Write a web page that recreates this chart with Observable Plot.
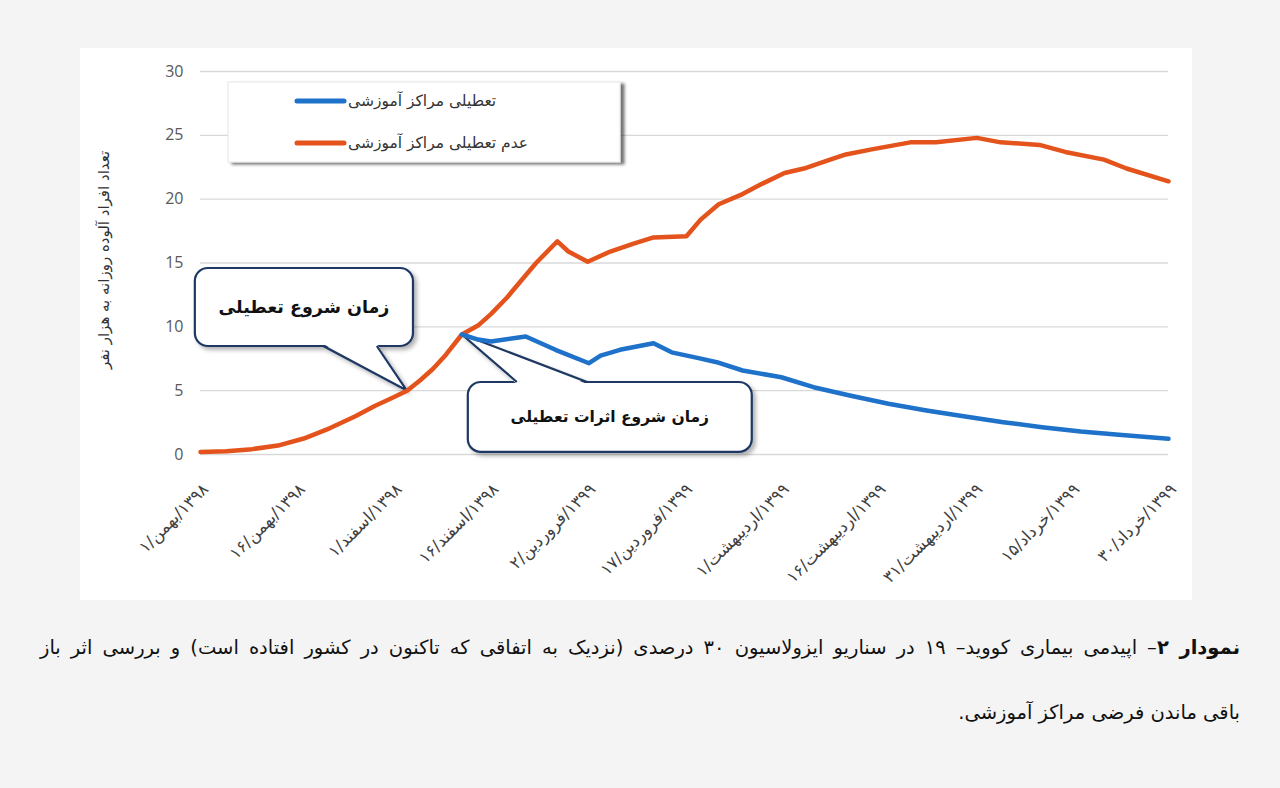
<!DOCTYPE html>
<html>
<head>
<meta charset="utf-8">
<script src="https://cdn.jsdelivr.net/npm/d3@7"></script>
<script src="https://cdn.jsdelivr.net/npm/@observablehq/plot@0.6"></script>
<style>
  html, body { margin: 0; padding: 0; }
  body { width: 1280px; height: 788px; background: #f4f4f4; position: relative; overflow: hidden; font-family: "DejaVu Sans", sans-serif; }
  #card { position: absolute; left: 80px; top: 48px; width: 1112px; height: 552px; background: #ffffff; }
  .cap { position: absolute; left: 40px; width: 1200px; direction: rtl; color: #111; font-family: "DejaVu Sans", sans-serif; font-size: 19.5px; line-height: 30px; }
  #cap1 { top: 633px; text-align: justify; text-align-last: justify; }
  #cap2 { top: 698px; text-align: right; }
  .cap b { font-weight: bold; }
</style>
</head>
<body>
<div id="card"></div>
<div class="cap" id="cap1"><b>نمودار ۲</b>– اپیدمی بیماری کووید– ۱۹ در سناریو ایزولاسیون ۳۰ درصدی (نزدیک به اتفاقی که تاکنون در کشور افتاده است) و بررسی اثر باز</div>
<div class="cap" id="cap2">باقی ماندن فرضی مراکز آموزشی.</div>
<script>
// ---- data (day index from 1/بهمن/1398) ----
const seriesNames = ["تعطیلی مراکز آموزشی", "عدم تعطیلی مراکز آموزشی"];
const openDays = [0,4,8,12,16,20,24,27,30,32,34,36,38,40.5,43,45,47.5,50,52,55.3,57,60,63.5,67,70.2,75.3,77.5,80.3,84,87,90.5,93.5,97,100,104,110,114,120.3,124,130,134,140,143.5,150];
const openVals = [0.2,0.25,0.42,0.7,1.25,2.05,3.0,3.8,4.5,5.0,5.8,6.7,7.8,9.4,10.1,11.0,12.3,13.8,15.0,16.7,15.9,15.1,15.9,16.5,17.0,17.1,18.4,19.6,20.4,21.2,22.05,22.4,23.0,23.5,23.9,24.45,24.45,24.8,24.45,24.25,23.7,23.1,22.4,21.4];
const closedDays = [40.5,43,45,50.4,55,60.2,62,65,70.2,73,77,80,84,90,95,100.6,106.6,112.5,118.5,124.4,130.4,136.4,142.3,150];
const closedVals = [9.4,9.0,8.85,9.24,8.2,7.15,7.75,8.2,8.72,8.0,7.57,7.23,6.58,6.05,5.27,4.62,3.97,3.45,2.98,2.53,2.14,1.8,1.54,1.23];
const tickDays = [0,15,30,45,60,75,90,105,120,135,150];
const tickDay = ["۱","۱۶","۱","۱۶","۲","۱۷","۱","۱۶","۳۱","۱۵","۳۰"];
const tickMonth = ["بهمن","بهمن","اسفند","اسفند","فروردین","فروردین","اردیبهشت","اردیبهشت","اردیبهشت","خرداد","خرداد"];
const tickYear = ["۱۳۹۸","۱۳۹۸","۱۳۹۸","۱۳۹۸","۱۳۹۹","۱۳۹۹","۱۳۹۹","۱۳۹۹","۱۳۹۹","۱۳۹۹","۱۳۹۹"];
const yTicks = [0,5,10,15,20,25,30];
const yTitle = "تعداد افراد آلوده روزانه به هزار نفر";
const calloutTexts = ["زمان شروع تعطیلی", "زمان شروع اثرات تعطیلی"];

const colors = ["#1f72c9", "#e4531b"];
const LRM = "\u200E";
const tickLabel = d => {
  const i = tickDays.indexOf(d);
  return tickDay[i] + LRM + "/" + LRM + tickMonth[i] + LRM + "/" + LRM + tickYear[i];
};

const openData = openDays.map((d, i) => ({day: d, v: openVals[i]}));
const closedData = closedDays.map((d, i) => ({day: d, v: closedVals[i]}));

const plot = Plot.plot({
  width: 1112,
  height: 552,
  marginLeft: 120,
  marginRight: 24,
  marginTop: 23,
  marginBottom: 146,
  style: {background: "transparent", fontFamily: "DejaVu Sans, sans-serif"},
  x: {domain: [0, 150]},
  y: {domain: [0, 30]},
  marks: [
    Plot.gridY(yTicks, {stroke: "#d9d9d9", strokeOpacity: 1, strokeWidth: 1.3}),
    Plot.axisY(yTicks, {tickSize: 0, tickPadding: 17, fontSize: 16, fill: "#595959", label: null, fontFamily: "Open Sans, sans-serif"}),
    Plot.axisX(tickDays, {tickSize: 0, tickRotate: -45, tickPadding: 18, dy: 14, dx: 5, fontSize: 16.5, fill: "#404040", label: null, tickFormat: tickLabel}),
    Plot.line(openData, {x: "day", y: "v", stroke: colors[1], strokeWidth: 4.5, strokeLinejoin: "round", strokeLinecap: "round"}),
    Plot.line(closedData, {x: "day", y: "v", stroke: colors[0], strokeWidth: 4.5, strokeLinejoin: "round", strokeLinecap: "round"})
  ]
});
document.getElementById("card").appendChild(plot);

const X = plot.scale("x"), Y = plot.scale("y");
const sx = v => X.apply(v), sy = v => Y.apply(v);
const svg = d3.select(plot);
const defs = svg.append("defs");
defs.append("filter").attr("id", "shadow").attr("x", "-10%").attr("y", "-10%").attr("width", "130%").attr("height", "140%")
  .append("feDropShadow").attr("dx", 3).attr("dy", 3).attr("stdDeviation", 2).attr("flood-color", "#000").attr("flood-opacity", 0.3);
defs.append("filter").attr("id", "lshadow").attr("x", "-10%").attr("y", "-10%").attr("width", "130%").attr("height", "140%")
  .append("feDropShadow").attr("dx", 4).attr("dy", 2).attr("stdDeviation", 1.5).attr("flood-color", "#000").attr("flood-opacity", 0.55);

// callouts: box in data units, pointer base (days) on box edge, tip on a series point
const callouts = [
  {text: calloutTexts[0], x1: -0.8, x2: 33.0, y1: 14.57, y2: 8.46, edge: "bottom", b1: 19.1, b2: 27.4, tip: [openDays[9], openVals[9]], fs: 17.5},
  {text: calloutTexts[1], x1: 41.5, x2: 85.5, y1: 5.64, y2: 0.16, edge: "top", b1: 49.1, b2: 60.0, tip: [closedDays[0], closedVals[0]], fs: 15.5}
];
const cg = document.createElementNS("http://www.w3.org/2000/svg", "g");
const firstLine = plot.querySelector('g[aria-label="line"]');
if (firstLine) plot.insertBefore(cg, firstLine); else plot.appendChild(cg);
const cgs = d3.select(cg);
callouts.forEach(c => {
  const g = cgs.append("g").attr("filter", "url(#shadow)");
  const L = sx(c.x1), R = sx(c.x2), T = sy(c.y1), B = sy(c.y2);
  g.append("rect").attr("x", L).attr("y", T).attr("width", R - L).attr("height", B - T)
    .attr("rx", 13).attr("fill", "#fff").attr("stroke", "#1f3864").attr("stroke-width", 2.2);
  const ey = c.edge === "bottom" ? B : T;
  const inset = c.edge === "bottom" ? -2 : 2;
  const tx = sx(c.tip[0]), ty = sy(c.tip[1]);
  g.append("path").attr("d", `M${sx(c.b1)},${ey + inset}L${tx},${ty}L${sx(c.b2)},${ey + inset}Z`).attr("fill", "#fff");
  g.append("path").attr("d", `M${sx(c.b1)},${ey}L${tx},${ty}L${sx(c.b2)},${ey}`).attr("fill", "none").attr("stroke", "#1f3864").attr("stroke-width", 2.2).attr("stroke-linejoin", "miter");
  cgs.append("text").attr("x", (L + R) / 2).attr("y", (T + B) / 2).attr("dy", "0.35em")
    .attr("text-anchor", "middle").attr("font-size", c.fs).attr("font-weight", "bold").attr("fill", "#111")
    .attr("font-family", "DejaVu Sans, sans-serif").text(c.text);
});

// y-axis title
svg.append("text").attr("transform", `translate(24,${212}) rotate(-90)`)
  .attr("text-anchor", "middle").attr("dy", "0.35em").attr("font-size", 15).attr("fill", "#333")
  .attr("font-family", "DejaVu Sans, sans-serif").text(yTitle);

// legend
const lg = svg.append("g");
lg.append("rect").attr("x", 148).attr("y", 34).attr("width", 392).attr("height", 80).attr("fill", "#fff")
  .attr("stroke", "#e6e6e6").attr("filter", "url(#lshadow)");
[0, 1].forEach(i => {
  const yy = 53 + i * 42;
  lg.append("line").attr("x1", 217).attr("x2", 264).attr("y1", yy).attr("y2", yy)
    .attr("stroke", colors[i]).attr("stroke-width", 5).attr("stroke-linecap", "round");
  lg.append("text").attr("x", 268).attr("y", yy).attr("dy", "0.35em").attr("text-anchor", "start").attr("font-size", 15.5).attr("fill", "#333")
    .attr("font-family", "DejaVu Sans, sans-serif").text(seriesNames[i]);
});
</script>
</body>
</html>
